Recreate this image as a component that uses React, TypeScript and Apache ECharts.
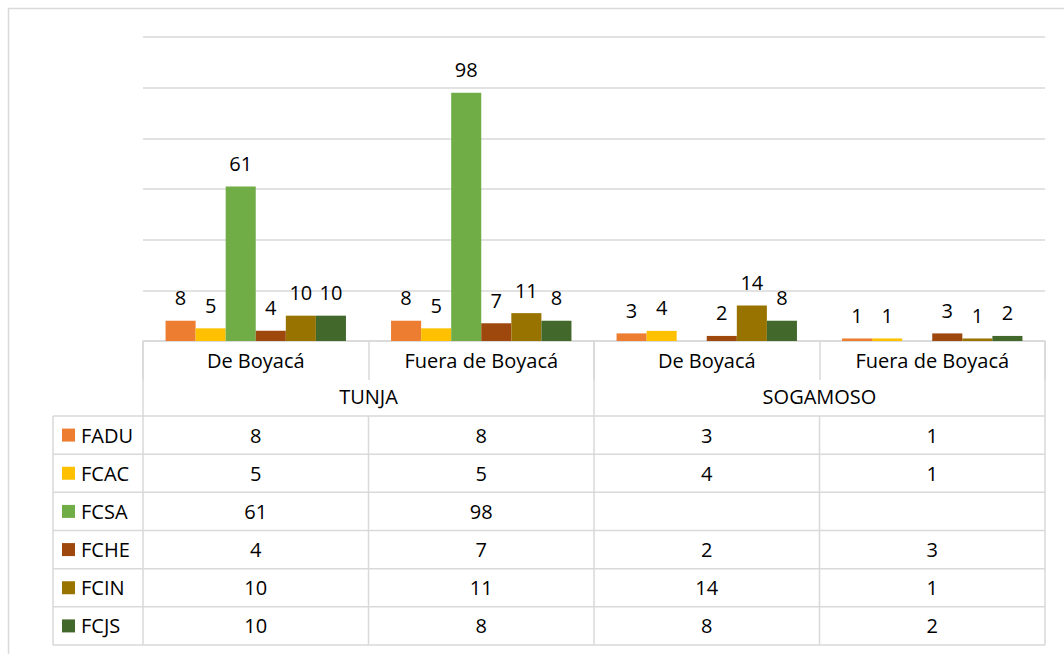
import React, { useEffect, useRef } from "react";
import * as echarts from "echarts";

const categories = ["De Boyacá", "Fuera de Boyacá", "De Boyacá", "Fuera de Boyacá"];
const groups = ["TUNJA", "SOGAMOSO"];
const seriesNames = ["FADU", "FCAC", "FCSA", "FCHE", "FCIN", "FCJS"];
const FADU = [8, 8, 3, 1];
const FCAC = [5, 5, 4, 1];
const FCSA = [61, 98, null, null];
const FCHE = [4, 7, 2, 3];
const FCIN = [10, 11, 14, 1];
const FCJS = [10, 8, 8, 2];
const seriesValues = [FADU, FCAC, FCSA, FCHE, FCIN, FCJS];
const colors = ["#ED7D31", "#FFC000", "#70AD47", "#9E480E", "#997300", "#43682B"];

const FONT = "'Open Sans', sans-serif";
const GRID_L = 143;
const GRID_R = 1045;
const TOP = 37;
const AXIS_Y = 341;
const TABLE_TOP = 416;
const TABLE_BOT = 645;
const LEG_L = 53;
const LINE = "#D9D9D9";

export default function App() {
  const ref = useRef<HTMLDivElement>(null);
  useEffect(() => {
    if (!ref.current) return;
    const chart = echarts.init(ref.current, undefined, { renderer: "svg" });
    const colW = (GRID_R - GRID_L) / categories.length;
    const rowH = (TABLE_TOP === TABLE_BOT ? 1 : (TABLE_BOT - TABLE_TOP)) / seriesNames.length;
    const graphic: any[] = [];
    // outer frame
    graphic.push({
      type: "rect",
      shape: { x: 8.5, y: 8.5, width: 1100, height: 700 },
      style: { fill: "none", stroke: LINE, lineWidth: 1.5 },
      silent: true,
    });
    // horizontal table lines
    for (let k = 0; k <= seriesNames.length; k++) {
      const y = TABLE_TOP + k * rowH;
      graphic.push({
        type: "line",
        shape: { x1: LEG_L, y1: y, x2: GRID_R, y2: y },
        style: { stroke: LINE, lineWidth: 1.5 },
      });
    }
    // vertical table lines
    const xs = [LEG_L];
    for (let c = 0; c <= categories.length; c++) xs.push(GRID_L + c * colW);
    xs.forEach((x) => {
      graphic.push({
        type: "line",
        shape: { x1: x, y1: TABLE_TOP, x2: x, y2: TABLE_BOT },
        style: { stroke: LINE, lineWidth: 1.5 },
      });
    });
    // rows
    seriesNames.forEach((name, r) => {
      const cy = TABLE_TOP + (r + 0.5) * rowH;
      graphic.push({
        type: "rect",
        shape: { x: 62, y: cy - 6.5, width: 13, height: 13 },
        style: { fill: colors[r] },
      });
      graphic.push({
        type: "text",
        x: 81,
        y: cy,
        style: {
          text: name,
          font: `20px ${FONT}`,
          fill: "#000",
          verticalAlign: "middle",
          align: "left",
        },
      });
      seriesValues[r].forEach((v, c) => {
        if (v === null || v === undefined) return;
        graphic.push({
          type: "text",
          x: GRID_L + (c + 0.5) * colW,
          y: cy,
          style: {
            text: String(v),
            font: `20px ${FONT}`,
            fill: "#000",
            verticalAlign: "middle",
            align: "center",
          },
        });
      });
    });

    chart.setOption({
      animation: false,
      grid: { left: GRID_L, right: 1064 - GRID_R, top: TOP, bottom: 654 - AXIS_Y },
      xAxis: [
        {
          type: "category",
          data: categories,
          axisLine: { lineStyle: { color: LINE, width: 1.5 } },
          axisTick: { show: true, interval: 0, length: 39, lineStyle: { color: LINE, width: 1.5 } },
          axisLabel: {
            interval: 0,
            margin: 19,
            verticalAlign: "middle",
            fontFamily: FONT,
            fontSize: 20,
            color: "#000",
          },
        },
        {
          type: "category",
          data: groups,
          position: "bottom",
          axisLine: { show: false },
          axisTick: { show: true, interval: 0, length: 75, lineStyle: { color: LINE, width: 1.5 } },
          axisLabel: {
            interval: 0,
            margin: 55,
            verticalAlign: "middle",
            fontFamily: FONT,
            fontSize: 20,
            color: "#000",
          },
        },
      ],
      yAxis: {
        type: "value",
        min: 0,
        max: 120,
        interval: 20,
        axisLabel: { show: false },
        axisLine: { show: false },
        axisTick: { show: false },
        splitLine: { lineStyle: { color: LINE, width: 1.5 } },
      },
      series: seriesNames.map((name, i) => ({
        name,
        type: "bar",
        xAxisIndex: 0,
        data: seriesValues[i],
        barGap: "0%",
        barCategoryGap: "20%",
        itemStyle: { color: colors[i] },
        label: {
          show: true,
          position: "top",
          distance: 13,
          fontFamily: FONT,
          fontSize: 20,
          color: "#000",
        },
      })),
      graphic,
    });
    return () => chart.dispose();
  }, []);
  return (
    <div
      ref={ref}
      style={{ position: "fixed", left: 0, top: 0, width: 1064, height: 654, background: "#fff" }}
    />
  );
}
